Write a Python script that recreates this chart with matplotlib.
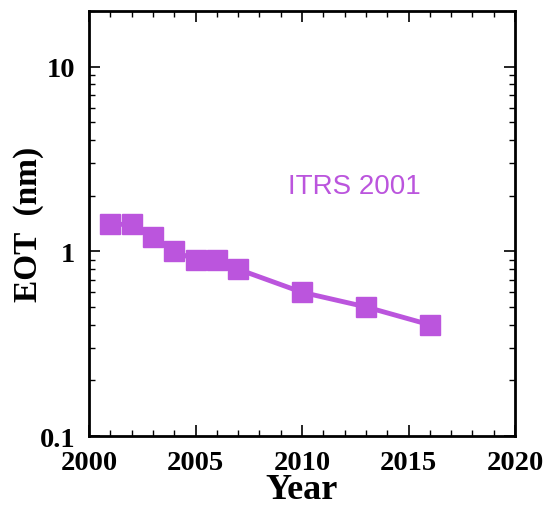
import matplotlib
matplotlib.use("Agg")
import matplotlib.pyplot as plt
from matplotlib.ticker import MultipleLocator, FixedFormatter, FixedLocator, NullFormatter

years = [2001, 2002, 2003, 2004, 2005, 2006, 2007, 2010, 2013, 2016]
eot = [1.4, 1.4, 1.2, 1.0, 0.9, 0.9, 0.8, 0.6, 0.5, 0.4]
purple = '#BB55DD'

fig = plt.figure(figsize=(5.45, 5.10), dpi=100)
ax = fig.add_axes([0.1633, 0.1431, 0.7817, 0.8334])

ax.plot(years, eot, color=purple, lw=3.5, marker='s', ms=15,
        markeredgecolor=purple, zorder=3, clip_on=False)
ax.text(2009.35, 2.08, 'ITRS 2001', color=purple, fontsize=20,
        family='Liberation Sans')

ax.set_xlim(2000, 2020)
ax.set_yscale('log')
ax.set_ylim(0.1, 20)

ax.xaxis.set_major_locator(MultipleLocator(5))
ax.xaxis.set_minor_locator(MultipleLocator(1))
ax.yaxis.set_major_locator(FixedLocator([0.1, 1, 10]))
ax.yaxis.set_major_formatter(FixedFormatter(['0.1', '1', '10']))
minor_y = [m * d for d in (0.1, 1, 10) for m in range(2, 10) if m * d <= 20]
ax.yaxis.set_minor_locator(FixedLocator(minor_y))
ax.yaxis.set_minor_formatter(NullFormatter())

serif = 'Liberation Serif'
ax.tick_params(which='both', direction='in', top=True, right=True)
ax.tick_params(which='major', length=8, width=1.2, labelsize=20.5, pad=10)
ax.tick_params(which='minor', length=4, width=1.0)
for lab in ax.get_xticklabels() + ax.get_yticklabels():
    lab.set_family(serif)
    lab.set_fontweight('bold')
for s in ax.spines.values():
    s.set_linewidth(2)

ax.set_xlabel('Year', family=serif, fontweight='bold', fontsize=26, labelpad=-1.5)
ax.set_ylabel('EOT  (nm)', family=serif, fontweight='bold', fontsize=24)
ax.yaxis.set_label_coords(-0.105, 0.5)

fig.savefig('out.png', dpi=100)
